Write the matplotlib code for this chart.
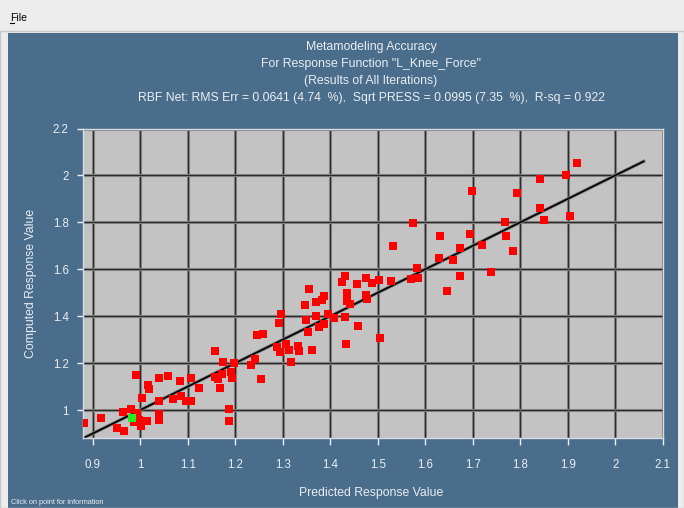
import matplotlib
matplotlib.use("Agg")
import matplotlib.pyplot as plt
from matplotlib.patches import Rectangle
from matplotlib.lines import Line2D

# Predicted vs computed response values
predicted = [0.881, 0.918, 0.952, 0.965, 0.964, 0.981, 0.993, 0.997, 0.988, 1.002,
             1.014, 1.039, 1.040, 1.004, 0.992, 1.016, 1.018, 1.040, 1.058, 1.040,
             1.069, 1.083, 1.086, 1.097, 1.108, 1.108, 1.124, 1.158, 1.174, 1.197,
             1.241, 1.234, 1.255, 1.191, 1.193, 1.172, 1.158, 1.163, 1.167, 1.188,
             1.188, 1.245, 1.258, 1.288, 1.295, 1.307, 1.313, 1.332, 1.335, 1.362,
             1.318, 1.297, 1.293, 1.348, 1.349, 1.353, 1.355, 1.371, 1.382, 1.388,
             1.395, 1.407, 1.370, 1.386, 1.377, 1.432, 1.434, 1.459, 1.504, 1.436,
             1.436, 1.441, 1.476, 1.478, 1.432, 1.425, 1.457, 1.476, 1.488, 1.502,
             1.527, 1.533, 1.571, 1.584, 1.583, 1.574, 1.769, 1.771, 1.785, 1.694,
             1.632, 1.719, 1.673, 1.629, 1.659, 1.673, 1.739, 1.646, 1.919, 1.897,
             1.841, 1.794, 1.841, 1.850, 1.904, 1.698]
computed = [0.946, 0.967, 0.925, 0.912, 0.990, 1.003, 0.986, 0.957, 0.950, 0.932,
            0.955, 0.982, 0.957, 1.050, 1.149, 1.109, 1.088, 1.137, 1.145, 1.038,
            1.048, 1.123, 1.061, 1.040, 1.038, 1.138, 1.092, 1.251, 1.206, 1.199,
            1.216, 1.193, 1.133, 1.163, 1.137, 1.153, 1.143, 1.131, 1.095, 1.003,
            0.953, 1.320, 1.326, 1.267, 1.247, 1.280, 1.258, 1.275, 1.252, 1.255,
            1.203, 1.409, 1.369, 1.447, 1.383, 1.331, 1.515, 1.462, 1.471, 1.487,
            1.411, 1.393, 1.400, 1.365, 1.352, 1.398, 1.280, 1.360, 1.309, 1.497,
            1.465, 1.450, 1.492, 1.475, 1.571, 1.546, 1.537, 1.563, 1.542, 1.556,
            1.550, 1.698, 1.557, 1.563, 1.606, 1.796, 1.801, 1.743, 1.677, 1.752,
            1.741, 1.705, 1.692, 1.648, 1.641, 1.570, 1.589, 1.508, 2.055, 2.002,
            1.986, 1.925, 1.860, 1.811, 1.827, 1.932]

# highlighted (selected) point
selected_pred = [0.983]
selected_comp = [0.966]

# ideal line (predicted == computed)
ideal = [0.88, 2.06]

x_ticks = [0.9, 1.0, 1.1, 1.2, 1.3, 1.4, 1.5, 1.6, 1.7, 1.8, 1.9, 2.0, 2.1]
x_labels = ["0.9", "1", "1.1", "1.2", "1.3", "1.4", "1.5", "1.6", "1.7", "1.8", "1.9", "2", "2.1"]
y_ticks = [1.0, 1.2, 1.4, 1.6, 1.8, 2.0, 2.2]
y_labels = ["1", "1.2", "1.4", "1.6", "1.8", "2", "2.2"]

title_lines = [
    "Metamodeling Accuracy",
    'For Response Function "L_Knee_Force"',
    "(Results of All Iterations)",
    "RBF Net: RMS Err = 0.0641 (4.74  %),  Sqrt PRESS = 0.0995 (7.35  %),  R-sq = 0.922",
]

plt.rcParams['font.family'] = ['Liberation Sans', 'DejaVu Sans']

W, H = 684, 508
BLUE = '#4a6d8c'
TXT = '#e9eef3'

fig = plt.figure(figsize=(W / 100, H / 100), dpi=100, facecolor='#ececec')

# window chrome: blue panel and frame
fig.patches.append(Rectangle((8 / W, 0), 670 / W, (H - 33) / H, transform=fig.transFigure,
                             facecolor=BLUE, edgecolor='none', zorder=-2))
fig.patches.append(Rectangle((0, 0), 1, (H - 31) / H, transform=fig.transFigure,
                             facecolor='none', edgecolor='#c8c8c8', lw=1, zorder=-1))
fig.text(10 / W, 1 - 18 / H, "File", fontsize=7.5, color='black', va='center', ha='left')
fig.lines.append(Line2D([10 / W, 14 / W], [1 - 23 / H, 1 - 23 / H], transform=fig.transFigure,
                        color='black', lw=0.8))

# title block
for i, line in enumerate(title_lines):
    fig.text(371 / W, 1 - (47 + 17 * i) / H, line, fontsize=8.8, color=TXT,
             ha='center', va='center')

ax = fig.add_axes([82.7 / W, 1 - 438 / H, (662.7 - 82.7) / W, (438 - 128.5) / H])
ax.set_zorder(5)
ax.set_facecolor('#c3c3c3')
ax.set_xlim(0.879, 2.1)
ax.set_ylim(0.881, 2.2)

for v in x_ticks:
    ax.axvline(v, color='#8c8c8c', lw=2.2, zorder=1)
    ax.axvline(v, color='#2b2b2b', lw=0.9, zorder=1)
for v in y_ticks:
    ax.axhline(v, color='#8c8c8c', lw=2.2, zorder=1)
    ax.axhline(v, color='#2b2b2b', lw=0.9, zorder=1)

ax.plot(ideal, ideal, color='#7a7a7a', lw=2.4, zorder=2)
ax.plot(ideal, ideal, color='black', lw=1.2, zorder=2)

ax.scatter(predicted, computed, marker='s', s=30, color='#ff0000', linewidths=0, zorder=3)
ax.scatter(selected_pred, selected_comp, marker='s', s=30, color='#22ee22', linewidths=0, zorder=4)

ax.set_xticks(x_ticks)
ax.set_xticklabels(x_labels)
ax.set_yticks(y_ticks)
ax.set_yticklabels(y_labels)
ax.tick_params(axis='x', colors=TXT, labelsize=8.3, length=5, width=1, pad=10)
ax.tick_params(axis='y', colors=TXT, labelsize=8.3, length=4, width=1, pad=6)
for s in ax.spines.values():
    s.set_color('#d5dce3')
    s.set_linewidth(1)

fig.text(371 / W, 1 - 493 / H, "Predicted Response Value", fontsize=8.8, color=TXT,
         ha='center', va='center')
fig.text(31 / W, 1 - 283 / H, "Computed Response Value", fontsize=8.8, color=TXT,
         ha='center', va='center', rotation=90)
fig.text(11 / W, 1 - 503 / H, "Click on point for information", fontsize=5.3, color=TXT,
         ha='left', va='center')

fig.savefig("out.png", dpi=100, facecolor=fig.get_facecolor())
